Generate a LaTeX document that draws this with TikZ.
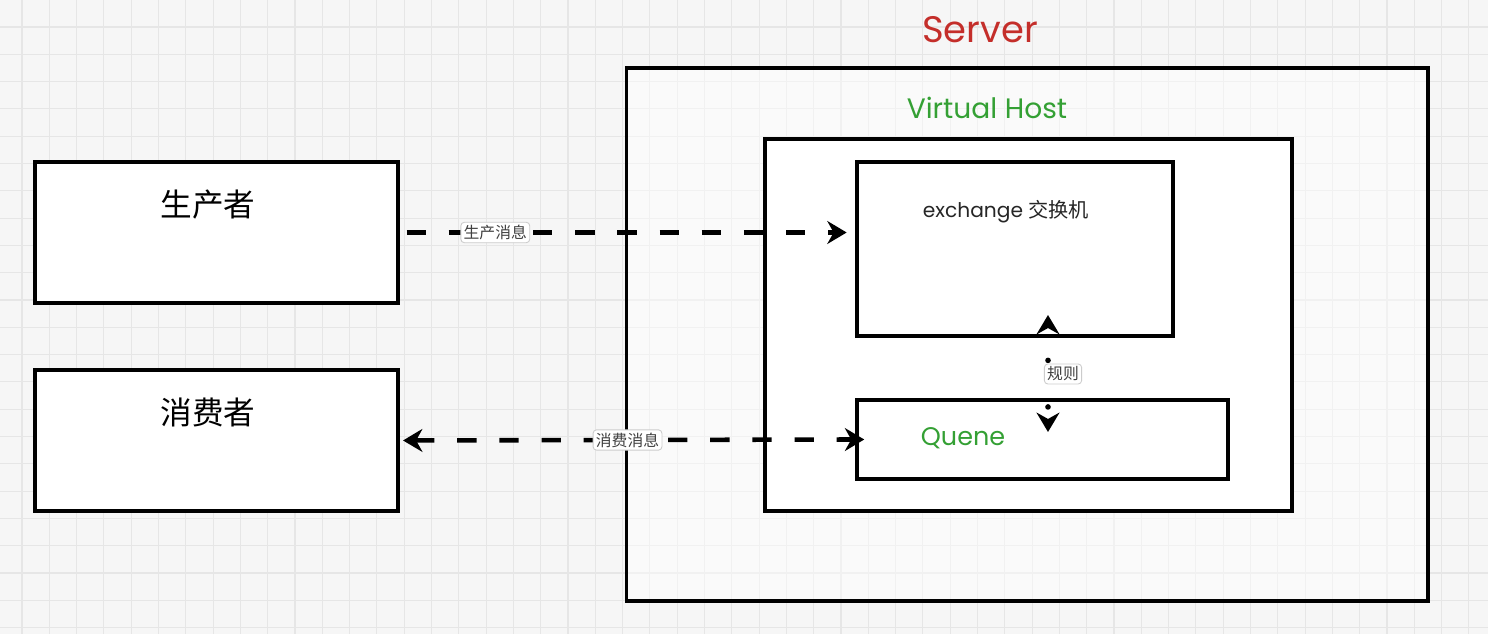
\documentclass[tikz,border=0pt]{standalone}
\usepackage{fontspec}
\setmainfont{Poppins}
\newfontfamily\cjk{Noto Sans CJK SC}
\usepackage{tikz}
\usetikzlibrary{arrows.meta}
\definecolor{srvred}{RGB}{196,46,42}
\definecolor{vhgreen}{RGB}{52,160,52}
\definecolor{paper}{RGB}{246,246,246}
\definecolor{gridgray}{RGB}{230,230,230}
\tikzset{bigtip/.tip={Stealth[length=11pt, width=13pt]}}
\tikzstyle{box}=[draw=black, line width=1.8pt, fill=white, inner sep=0pt]
\tikzstyle{tag}=[draw=black!20, fill=white, solid, line width=.5pt, rounded corners=2pt,
  inner sep=1.6pt, text=black!75, font=\cjk\fontsize{9}{11}\selectfont]
\tikzstyle{flow}=[line width=2.6pt, dash pattern=on 11pt off 13pt, bigtip-bigtip]
\tikzstyle{gridline}=[gridgray, line width=.6pt]

\begin{document}
\begin{tikzpicture}[x=0.02cm, y=-0.02cm]
      \useasboundingbox (0,0) rectangle (1488,634);
      \fill[paper] (0,0) rectangle (1488,634);
      \foreach \i in {0,...,53}{
        \draw[gridline] ({22+27.3*\i},0) -- ({22+27.3*\i},634);
      }
      \foreach \i in {0,...,22}{
        \draw[gridline] (0,{27+27.3*\i}) -- (1488,{27+27.3*\i});
      }

      % clients
      \node[box, minimum width=7.26cm, minimum height=2.82cm] (prod) at (216.5,232.5) {};
      \node[box, minimum width=7.26cm, minimum height=2.82cm] (cons) at (216.5,440.5) {};
      \node[font=\cjk\fontsize{18}{20}\selectfont] (prodtxt) at (208,205) {生产者};
      \node[font=\cjk\fontsize{18}{20}\selectfont] (constxt) at (208,412) {消费者};

      % server side
      \node[box, fill=white, fill opacity=.45, draw opacity=1,
        minimum width=16.04cm, minimum height=10.66cm] (srv) at (1027,334.5) {};
      \node[text=srvred, font=\fontsize{21}{24}\selectfont] (srvtxt) at (980,30) {Server};
      \node[box, minimum width=10.54cm, minimum height=7.44cm] (vh) at (1028.5,325) {};
      \node[text=vhgreen, font=\fontsize{16}{19}\selectfont] (vhtxt) at (987,108) {Virtual Host};
      \node[box, minimum width=6.32cm, minimum height=3.48cm] (ex) at (1015,249) {};
      \node[font=\fontsize{11.5}{14}\selectfont, text=black!85] (extxt) at (1006,212)
        {exchange {\cjk 交换机}};
      \node[box, minimum width=7.42cm, minimum height=1.58cm] (q) at (1042.5,439.5) {};
      \node[font=\fontsize{14.5}{17}\selectfont, text=vhgreen] (qtxt) at (963,438) {Quene};

      % messages
      \draw[flow, -bigtip, shorten <=4, shorten >=5]
        (prod.east) -- node[tag, pos=.21] (ptag) {生产消息} (prod.east -| ex.west);
      \draw[flow, shorten <=2, shorten >=-5]
        (cons.east) -- node[tag, pos=.5] (ctag) {消费消息} (q.west);

      \coordinate (rtop) at (1048,315);
      \coordinate (rbot) at (1048,432);
      \draw[line width=3.2pt, dash pattern=on 0pt off 26.5pt, dash phase=-19pt,
        line cap=round, bigtip-bigtip] (rtop) -- (rbot);
      \node[tag] (rtag) at (1063,374) {规则};
    \end{tikzpicture}
\end{document}
